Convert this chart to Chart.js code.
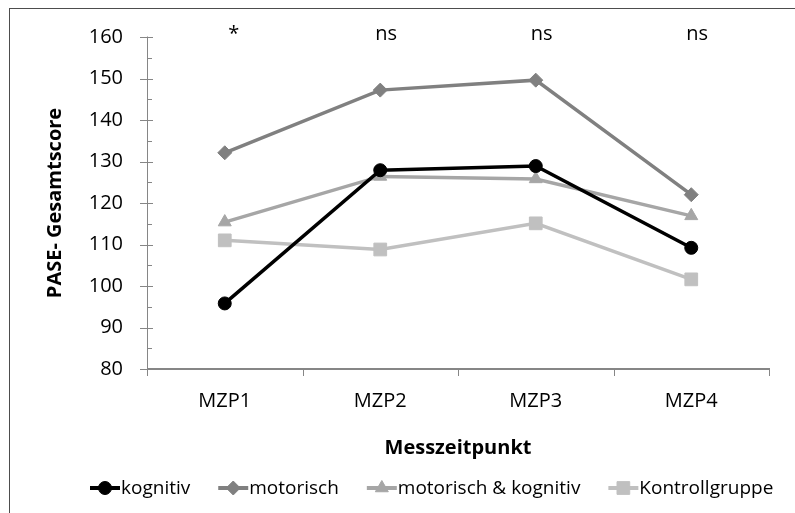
<!DOCTYPE html>
<html><head><meta charset="utf-8">
<script src="https://cdn.jsdelivr.net/npm/chart.js@4/dist/chart.umd.min.js"></script>
<style>
html,body{margin:0;padding:0;background:#fff;}
#wrap{position:relative;width:795px;height:513px;overflow:hidden;}
#frame{position:absolute;left:9px;top:8px;width:900px;height:600px;border-left:1px solid #4d4d4d;border-top:1px solid #4d4d4d;}
canvas{position:absolute;left:0;top:0;}
</style></head><body>
<div id="wrap"><div id="frame"></div><canvas id="c" width="795" height="513"></canvas></div>
<script>
const categories = ['MZP1', 'MZP2', 'MZP3', 'MZP4'];
const kognitiv = [95.8, 127.9, 128.9, 109.2];
const motorisch = [132.1, 147.2, 149.6, 122.0];
const motorischKognitiv = [115.4, 126.4, 125.8, 116.9];
const kontrollgruppe = [111.0, 108.8, 115.1, 101.6];
const seriesNames = ['kognitiv', 'motorisch', 'motorisch & kognitiv', 'Kontrollgruppe'];
const significance = ['*', 'ns', 'ns', 'ns'];
const yTitle = 'PASE- Gesamtscore';
const xTitle = 'Messzeitpunkt';
const yMin = 80, yMax = 160, yStep = 10;

const FONT = '"Open Sans", "Noto Sans", sans-serif';
const AXIS = '#868686';

function mk(name, data, color, style, radius) {
  return {
    label: name, data: data,
    borderColor: color, backgroundColor: color,
    pointBackgroundColor: color, pointBorderColor: color,
    pointStyle: style, pointRadius: radius, pointHoverRadius: radius,
    pointBorderWidth: 1, borderWidth: 3.5, tension: 0, fill: false, clip: false
  };
}

const axesPlugin = {
  id: 'axesPlugin',
  beforeDatasetsDraw(chart) {
    const ctx = chart.ctx, ca = chart.chartArea;
    const xs = chart.scales.x, ys = chart.scales.y;
    ctx.save();
    ctx.strokeStyle = AXIS;
    ctx.lineWidth = 1;
    ctx.beginPath();
    ctx.moveTo(ca.left + 0.5, ca.top - 0.5);
    ctx.lineTo(ca.left + 0.5, ca.bottom + 6);
    for (let v = yMin; v <= yMax; v += yStep) {
      const y = Math.round(ys.getPixelForValue(v)) + 0.5;
      ctx.moveTo(ca.left - 7, y);
      ctx.lineTo(ca.left + 6, y);
    }
    for (let v = yMin + yStep / 2; v < yMax; v += yStep) {
      const y = Math.round(ys.getPixelForValue(v)) + 0.5;
      ctx.moveTo(ca.left, y);
      ctx.lineTo(ca.left + 5, y);
    }
    ctx.stroke();
    ctx.lineWidth = 2;
    ctx.beginPath();
    const yb = ys.getPixelForValue(yMin);
    ctx.moveTo(ca.left, yb);
    ctx.lineTo(ca.right + 1, yb);
    ctx.stroke();
    ctx.lineWidth = 1;
    ctx.beginPath();
    const n = categories.length;
    for (let i = 0; i <= n; i++) {
      const x = Math.round(ca.left + (ca.right - ca.left) * i / n) + 0.5;
      ctx.moveTo(x, yb);
      ctx.lineTo(x, yb + 7);
    }
    ctx.stroke();
    ctx.restore();
  },
  afterDraw(chart) {
    const ctx = chart.ctx, xs = chart.scales.x;
    ctx.save();
    ctx.font = '20px ' + FONT;
    ctx.fillStyle = '#000';
    ctx.textAlign = 'center';
    ctx.textBaseline = 'alphabetic';
    significance.forEach((s, i) => {
      ctx.fillText(s, xs.getPixelForValue(i) + (i === 0 ? 9 : 6), 40);
    });
    ctx.font = '19px ' + FONT;
    ctx.textAlign = 'left';
    ctx.textBaseline = 'middle';
    let x = 90;
    const y = 488;
    chart.data.datasets.forEach(ds => {
      ctx.strokeStyle = ds.borderColor;
      ctx.fillStyle = ds.borderColor;
      ctx.lineWidth = ds.borderWidth + 0.5;
      ctx.beginPath();
      ctx.moveTo(x, y);
      ctx.lineTo(x + 30, y);
      ctx.stroke();
      ctx.lineWidth = 1;
      Chart.helpers.drawPoint(ctx, {pointStyle: ds.pointStyle, radius: ds.pointRadius, borderWidth: 1, rotation: 0}, x + 15, y);
      ctx.fillStyle = '#000';
      ctx.fillText(ds.label, x + 31, y + 1);
      x += 31 + ctx.measureText(ds.label).width + 28;
    });
    ctx.restore();
  }
};

new Chart(document.getElementById('c'), {
  type: 'line',
  data: {
    labels: categories,
    datasets: [
      mk(seriesNames[0], kognitiv, '#000000', 'circle', 6.5),
      mk(seriesNames[1], motorisch, '#808080', 'rectRot', 7),
      mk(seriesNames[2], motorischKognitiv, '#a6a6a6', 'triangle', 7.5),
      mk(seriesNames[3], kontrollgruppe, '#c0c0c0', 'rect', 9)
    ]
  },
  options: {
    responsive: false,
    animation: false,
    devicePixelRatio: 1,
    layout: {padding: {left: 0, right: 26, top: 37, bottom: 0}},
    plugins: {legend: {display: false}, tooltip: {enabled: false}, title: {display: false}},
    scales: {
      x: {
        type: 'category', offset: true,
        grid: {display: false, drawTicks: false},
        border: {display: false},
        ticks: {color: '#000', font: {family: FONT, size: 20}, padding: 20, maxRotation: 0},
        title: {display: true, text: xTitle, color: '#000', font: {family: FONT, size: 20, weight: 'bold'}, padding: {top: 0, bottom: 53}},
        afterFit(s) { s.height = 144; }
      },
      y: {
        min: yMin, max: yMax,
        grid: {display: false, drawTicks: false},
        border: {display: false},
        ticks: {stepSize: yStep, color: '#000', font: {family: FONT, size: 20}, padding: 24},
        title: {display: true, text: yTitle, color: '#000', font: {family: FONT, size: 20, weight: 'bold'}, padding: {top: 43, bottom: 0}},
        afterFit(s) { s.width = 147; }
      }
    }
  },
  plugins: [axesPlugin]
});
</script>
</body></html>
